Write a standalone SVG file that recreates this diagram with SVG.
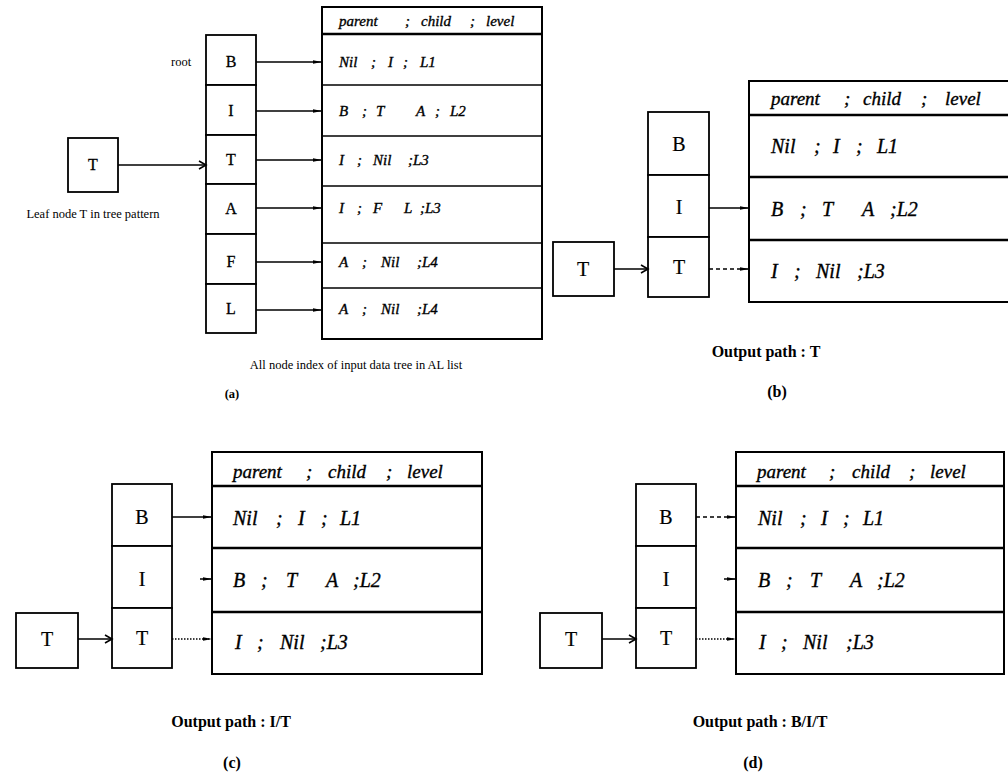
<svg xmlns="http://www.w3.org/2000/svg" width="1008" height="778" viewBox="0 0 1008 778">
<defs>
<marker id="ah" markerUnits="userSpaceOnUse" markerWidth="10" markerHeight="6" refX="9" refY="3" orient="auto">
<path d="M0,1.2 L9,3 L0,4.8 z" fill="#000"/>
</marker>
<marker id="oh" markerUnits="userSpaceOnUse" markerWidth="10" markerHeight="10" refX="8" refY="5" orient="auto">
<path d="M1,1 L8,5 L1,9" fill="none" stroke="#000" stroke-width="1.6"/>
</marker>
</defs>
<style>
text{font-family:"Liberation Serif","Times New Roman",serif;fill:#000}
.ti{font-style:italic;stroke:#000;stroke-width:0.35}
.box{fill:#fff;stroke:#000;stroke-width:1.8}
.tb{fill:#fff;stroke:#000;stroke-width:2}
.rl{stroke:#000;stroke-width:2.4}
.c{stroke:#000;stroke-width:1.5;fill:none}
.ca{marker-end:url(#ah)}
.co{marker-end:url(#oh)}
.dash{stroke-dasharray:4,3}
.dot{stroke-dasharray:1.5,1.5}
.la{font-size:16px;text-anchor:middle;stroke:#000;stroke-width:0.3}
.lb{font-size:20px;text-anchor:middle;stroke:#000;stroke-width:0.2}
.ra{font-size:15px}
.rb{font-size:20px}
.rc{font-size:19px}
.cap{font-size:16px;font-weight:bold;text-anchor:middle}
.sm{font-size:12.5px}
</style>
<rect width="1008" height="778" fill="#fff"/>

<!-- ================= Panel (a) ================= -->
<g id="a-table">
<rect class="tb" x="322" y="7" width="220" height="332"/>
<line class="rl" x1="322" y1="34" x2="542" y2="34"/>
<line class="c" x1="322" y1="85" x2="542" y2="85"/>
<line class="c" x1="322" y1="136" x2="542" y2="136"/>
<line class="c" x1="322" y1="186" x2="542" y2="186"/>
<line class="c" x1="322" y1="243" x2="542" y2="243"/>
<line class="c" x1="322" y1="288" x2="542" y2="288"/>
<text class="ti ra" y="26"><tspan x="339">parent</tspan><tspan x="405">;</tspan><tspan x="421">child</tspan><tspan x="470">;</tspan><tspan x="486">level</tspan></text>
<text class="ti ra" y="67"><tspan x="339">Nil</tspan><tspan x="371">;</tspan><tspan x="388">I</tspan><tspan x="403">;</tspan><tspan x="420">L1</tspan></text>
<text class="ti ra" y="116"><tspan x="339">B</tspan><tspan x="362">;</tspan><tspan x="376">T</tspan><tspan x="416">A</tspan><tspan x="435">;</tspan><tspan x="450">L2</tspan></text>
<text class="ti ra" y="165"><tspan x="339">I</tspan><tspan x="357">;</tspan><tspan x="373">Nil</tspan><tspan x="408">;L3</tspan></text>
<text class="ti ra" y="213"><tspan x="339">I</tspan><tspan x="357">;</tspan><tspan x="373">F</tspan><tspan x="404">L</tspan><tspan x="420">;L3</tspan></text>
<text class="ti ra" y="267"><tspan x="339">A</tspan><tspan x="362">;</tspan><tspan x="381">Nil</tspan><tspan x="417">;L4</tspan></text>
<text class="ti ra" y="314"><tspan x="339">A</tspan><tspan x="362">;</tspan><tspan x="381">Nil</tspan><tspan x="417">;L4</tspan></text>
</g>
<g id="a-B"><rect class="box" x="206" y="35" width="50" height="50"/><text class="la" x="231" y="67">B</text></g>
<g id="a-I"><rect class="box" x="206" y="85" width="50" height="50"/><text class="la" x="231" y="116">I</text></g>
<g id="a-T"><rect class="box" x="206" y="135" width="50" height="49"/><text class="la" x="231" y="165">T</text></g>
<g id="a-A"><rect class="box" x="206" y="184" width="50" height="50"/><text class="la" x="231" y="214">A</text></g>
<g id="a-F"><rect class="box" x="206" y="234" width="50" height="50"/><text class="la" x="231" y="267">F</text></g>
<g id="a-L"><rect class="box" x="206" y="284" width="50" height="49"/><text class="la" x="231" y="314">L</text></g>
<g id="a-leaf"><rect class="box" x="68" y="138" width="50" height="54"/><text class="la" x="93" y="170">T</text></g>
<text class="sm" x="171" y="66">root</text>
<text class="sm" x="93" y="218" text-anchor="middle">Leaf node T in tree pattern</text>
<text class="sm" x="356" y="369" text-anchor="middle">All node index of input data tree in AL list</text>
<text class="sm" x="232" y="398" text-anchor="middle" font-weight="bold">(a)</text>

<!-- ================= Panel (b) ================= -->
<g id="b-table">
<rect class="tb" x="749" y="81" width="262" height="221"/>
<line class="rl" x1="749" y1="115" x2="1008" y2="115"/>
<line class="rl" x1="749" y1="177" x2="1008" y2="177"/>
<line class="rl" x1="749" y1="240" x2="1008" y2="240"/>
<text class="ti rc" y="105"><tspan x="771">parent</tspan><tspan x="844">;</tspan><tspan x="863">child</tspan><tspan x="921">;</tspan><tspan x="945">level</tspan></text>
<text class="ti rb" y="153"><tspan x="771">Nil</tspan><tspan x="814">;</tspan><tspan x="833">I</tspan><tspan x="856">;</tspan><tspan x="877">L1</tspan></text>
<text class="ti rb" y="216"><tspan x="771">B</tspan><tspan x="800">;</tspan><tspan x="822">T</tspan><tspan x="862">A</tspan><tspan x="890">;L2</tspan></text>
<text class="ti rb" y="278"><tspan x="771">I</tspan><tspan x="794">;</tspan><tspan x="816">Nil</tspan><tspan x="857">;L3</tspan></text>
</g>
<g id="b-B"><rect class="box" x="648" y="112" width="61" height="63"/><text class="lb" x="679" y="151">B</text></g>
<g id="b-I"><rect class="box" x="648" y="175" width="61" height="62"/><text class="lb" x="679" y="214">I</text></g>
<g id="b-T"><rect class="box" x="648" y="237" width="61" height="60"/><text class="lb" x="679" y="274">T</text></g>
<g id="b-leaf"><rect class="box" x="553" y="242" width="61" height="54"/><text class="lb" x="583" y="276">T</text></g>
<text class="cap" x="766" y="357">Output path : T</text>
<text class="cap" x="777" y="397">(b)</text>

<!-- ================= Panel (c) ================= -->
<g id="c-table">
<rect class="tb" x="212" y="452" width="270" height="222"/>
<line class="rl" x1="212" y1="486" x2="482" y2="486"/>
<line class="rl" x1="212" y1="548" x2="482" y2="548"/>
<line class="rl" x1="212" y1="612" x2="482" y2="612"/>
<text class="ti rc" y="478"><tspan x="233">parent</tspan><tspan x="306">;</tspan><tspan x="328">child</tspan><tspan x="386">;</tspan><tspan x="407">level</tspan></text>
<text class="ti rb" y="525"><tspan x="233">Nil</tspan><tspan x="276">;</tspan><tspan x="298">I</tspan><tspan x="321">;</tspan><tspan x="340">L1</tspan></text>
<text class="ti rb" y="587"><tspan x="233">B</tspan><tspan x="261">;</tspan><tspan x="286">T</tspan><tspan x="326">A</tspan><tspan x="353">;L2</tspan></text>
<text class="ti rb" y="649"><tspan x="235">I</tspan><tspan x="257">;</tspan><tspan x="280">Nil</tspan><tspan x="320">;L3</tspan></text>
</g>
<g id="c-B"><rect class="box" x="112" y="484" width="60" height="62"/><text class="lb" x="142" y="524">B</text></g>
<g id="c-I"><rect class="box" x="112" y="546" width="60" height="62"/><text class="lb" x="142" y="586">I</text></g>
<g id="c-T"><rect class="box" x="112" y="608" width="60" height="60"/><text class="lb" x="142" y="645">T</text></g>
<g id="c-leaf"><rect class="box" x="16" y="613" width="62" height="55"/><text class="lb" x="47" y="646">T</text></g>
<text class="cap" x="231" y="727">Output path : I/T</text>
<text class="cap" x="232" y="768">(c)</text>

<!-- ================= Panel (d) ================= -->
<g id="d-table">
<rect class="tb" x="736" y="452" width="268" height="222"/>
<line class="rl" x1="736" y1="486" x2="1004" y2="486"/>
<line class="rl" x1="736" y1="548" x2="1004" y2="548"/>
<line class="rl" x1="736" y1="612" x2="1004" y2="612"/>
<text class="ti rc" y="478"><tspan x="757">parent</tspan><tspan x="829">;</tspan><tspan x="852">child</tspan><tspan x="909">;</tspan><tspan x="930">level</tspan></text>
<text class="ti rb" y="525"><tspan x="758">Nil</tspan><tspan x="800">;</tspan><tspan x="821">I</tspan><tspan x="843">;</tspan><tspan x="863">L1</tspan></text>
<text class="ti rb" y="587"><tspan x="758">B</tspan><tspan x="786">;</tspan><tspan x="810">T</tspan><tspan x="850">A</tspan><tspan x="877">;L2</tspan></text>
<text class="ti rb" y="649"><tspan x="759">I</tspan><tspan x="781">;</tspan><tspan x="803">Nil</tspan><tspan x="846">;L3</tspan></text>
</g>
<g id="d-B"><rect class="box" x="636" y="484" width="60" height="62"/><text class="lb" x="666" y="524">B</text></g>
<g id="d-I"><rect class="box" x="636" y="546" width="60" height="62"/><text class="lb" x="666" y="586">I</text></g>
<g id="d-T"><rect class="box" x="636" y="608" width="60" height="60"/><text class="lb" x="666" y="645">T</text></g>
<g id="d-leaf"><rect class="box" x="540" y="613" width="62" height="55"/><text class="lb" x="571" y="646">T</text></g>
<text class="cap" x="760" y="727">Output path : B/I/T</text>
<text class="cap" x="753" y="768">(d)</text>

<!-- ================= Connectors ================= -->
<g id="connectors">
<path class="c ca" d="M256,62 H322"/>
<path class="c ca" d="M256,111 H322"/>
<path class="c ca" d="M256,160 H322"/>
<path class="c ca" d="M256,208 H322"/>
<path class="c ca" d="M256,262 H322" stroke-width="2.2"/>
<path class="c ca" d="M256,310 H322"/>
<path class="c co" d="M118,165 H206" stroke-width="2"/>

<path class="c ca" d="M709,208 H749" stroke-width="2"/>
<path class="c ca dash" d="M709,269 H749"/>
<path class="c co" d="M614,269 H648"/>

<path class="c ca" d="M172,517 H212"/>
<path class="c ca" d="M200,579 H212"/>
<path class="c ca dot" d="M172,639 H212"/>
<path class="c co" d="M78,639 H112" stroke-width="2"/>

<path class="c ca dash" d="M696,517 H736"/>
<path class="c ca" d="M724,579 H736"/>
<path class="c ca dot" d="M696,639 H736"/>
<path class="c co" d="M602,639 H636" stroke-width="2"/>
</g>
</svg>
